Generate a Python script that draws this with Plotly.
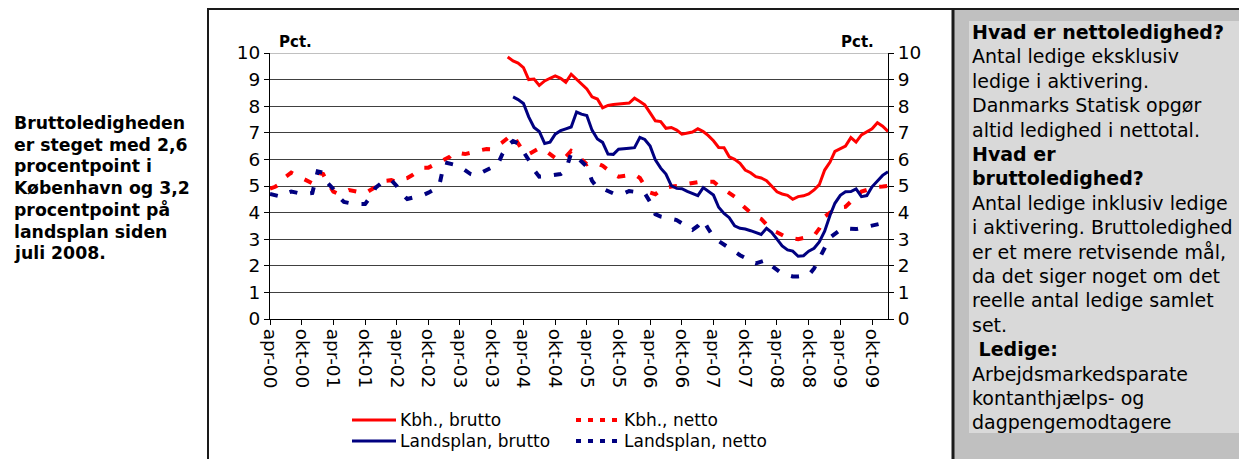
import pandas as pd
import plotly.graph_objects as go

# ---- data (monthly, apr-2000 .. jan-2010) ----
months = pd.date_range("2000-04-01", "2010-01-01", freq="MS")

kbh_netto = [4.9, 4.97, 5.1, 5.35, 5.5, 5.4, 5.3, 5.19, 5.1, 5.5, 5.45, 5.1,
             4.79, 4.7, 4.75, 4.85, 4.8, 4.75, 4.72, 4.85, 4.97, 5.1, 5.2, 5.22,
             5.15, 5.25, 5.3, 5.41, 5.55, 5.69, 5.69, 5.8, 5.9, 5.98, 6.1, 6.27,
             6.25, 6.2, 6.25, 6.27, 6.35, 6.39, 6.38, 6.5, 6.64, 6.8, 6.94, 6.6,
             6.3, 6.2, 6.3, 6.42, 6.35, 6.2, 6.05, 5.98, 6.1, 6.32, 6.2, 6.0,
             5.82, 5.9, 5.85, 5.76, 5.6, 5.45, 5.35, 5.38, 5.42, 5.44, 5.3, 5.0,
             4.75, 4.69, 4.85, 4.94, 4.98, 5.0, 5.01, 5.08, 5.12, 5.16, 5.18, 5.16,
             5.16, 5.0, 4.85, 4.73, 4.6, 4.35, 4.16, 4.0, 3.85, 3.76, 3.55, 3.35,
             3.26, 3.15, 3.05, 3.03, 3.0, 3.05, 3.1, 3.13, 3.4, 3.85, 4.0, 4.1,
             4.2, 4.22, 4.4, 4.6, 4.79, 4.85, 4.92, 4.97, 4.98, 5.0]

land_netto = [4.7, 4.66, 4.6, 4.72, 4.79, 4.75, 4.7, 4.72, 4.74, 5.55, 5.5, 5.1,
              4.89, 4.6, 4.4, 4.36, 4.33, 4.32, 4.32, 4.6, 4.94, 5.1, 5.2, 5.22,
              5.0, 4.7, 4.51, 4.55, 4.6, 4.66, 4.75, 4.85, 4.97, 5.89, 5.85, 5.8,
              5.73, 5.6, 5.45, 5.39, 5.5, 5.6, 5.7, 5.76, 6.2, 6.52, 6.69, 6.6,
              6.3, 5.98, 5.6, 5.35, 5.36, 5.38, 5.4, 5.45, 5.6, 6.23, 6.1, 5.9,
              5.73, 5.2, 4.94, 4.9, 4.8, 4.72, 4.69, 4.72, 4.81, 4.78, 4.75, 4.73,
              4.4, 3.94, 3.85, 3.8, 3.75, 3.72, 3.6, 3.45, 3.35, 3.5, 3.72, 3.4,
              3.1, 2.93, 2.8, 2.65, 2.51, 2.4, 2.3, 2.15, 2.09, 2.15, 2.22, 2.0,
              1.85, 1.7, 1.65, 1.6, 1.6, 1.62, 1.65, 1.9, 2.28, 2.7, 3.06, 3.2,
              3.35, 3.41, 3.4, 3.38, 3.42, 3.47, 3.5, 3.55, 3.6, 3.65]

# brutto series start in 2004 (None = no data)
kbh_brutto = [None] * 45 + [
    9.85, 9.7, 9.62, 9.45, 9.0, 9.02, 8.78, 8.95, 9.05, 9.14, 9.05, 8.9,
    9.2, 9.02, 8.86, 8.65, 8.35, 8.27, 7.94, 8.03, 8.06, 8.07, 8.1, 8.12,
    8.3, 8.18, 8.05, 7.75, 7.45, 7.42, 7.17, 7.2, 7.1, 6.95, 7.0, 7.03,
    7.15, 7.05, 6.9, 6.7, 6.45, 6.44, 6.1, 6.0, 5.85, 5.6, 5.5, 5.35,
    5.3, 5.2, 5.0, 4.78, 4.7, 4.65, 4.5, 4.6, 4.63, 4.7, 4.85, 5.05,
    5.6, 5.9, 6.3, 6.4, 6.5, 6.82, 6.65, 6.92, 7.05, 7.15, 7.38, 7.25, 7.05]

land_brutto = [None] * 46 + [
    8.35, 8.25, 8.1, 7.6, 7.2, 7.05, 6.6, 6.65, 6.95, 7.08, 7.15, 7.22,
    7.78, 7.7, 7.65, 7.1, 6.77, 6.64, 6.2, 6.19, 6.38, 6.39, 6.42, 6.44,
    6.83, 6.75, 6.5, 5.98, 5.67, 5.45, 5.01, 4.91, 4.9, 4.8, 4.73, 4.64,
    4.94, 4.8, 4.66, 4.2, 3.97, 3.81, 3.5, 3.41, 3.38, 3.32, 3.26, 3.18,
    3.41, 3.26, 3.0, 2.75, 2.6, 2.55, 2.36, 2.38, 2.55, 2.66, 2.9, 3.3,
    3.9, 4.35, 4.65, 4.78, 4.79, 4.89, 4.6, 4.64, 4.97, 5.2, 5.4, 5.54]

tick_dates = pd.date_range("2000-04-01", "2009-10-01", freq="6MS")
tick_text = ["apr-00", "okt-00", "apr-01", "okt-01", "apr-02", "okt-02",
             "apr-03", "okt-03", "apr-04", "okt-04", "apr-05", "okt-05",
             "apr-06", "okt-06", "apr-07", "okt-07", "apr-08", "okt-08",
             "apr-09", "okt-09"]

series_names = ["Kbh., brutto", "Kbh., netto", "Landsplan, brutto", "Landsplan, netto"]

left_text = ["Bruttoledigheden", "er steget med 2,6", "procentpoint i",
             "København og 3,2", "procentpoint på", "landsplan siden", "juli 2008."]

box_lines = [("Hvad er nettoledighed?", True), ("Antal ledige eksklusiv", False),
             ("ledige i aktivering.", False), ("Danmarks Statisk opgør", False),
             ("altid ledighed i nettotal.", False), ("Hvad er", True),
             ("bruttoledighed?", True), ("Antal ledige inklusiv ledige", False),
             ("i aktivering. Bruttoledighed", False), ("er et mere retvisende mål,", False),
             ("da det siger noget om det", False), ("reelle antal ledige samlet", False),
             ("set.", False), (" Ledige:", True), ("Arbejdsmarkedsparate", False),
             ("kontanthjælps- og", False), ("dagpengemodtagere", False)]

# ---- layout geometry (page pixels; the page body adds an 8px margin) ----
OFF = 8
W, H = 1247 - OFF, 459 - OFF
PL, PR, PT, PB = 270, 888, 53, 319   # plot box in page pixels
L, R, T, B = PL - OFF, PR - OFF, PT - OFF, PB - OFF
FONT = "DejaVu Sans"
RED = "#ff0000"
NAVY = "#000080"
NETTO_DASH = "8px,13px"


def px(x):
    return (x - PL) / (PR - PL)


def py(y):
    return (PB - y) / (PB - PT)


fig = go.Figure()
fig.add_trace(go.Scatter(x=months, y=kbh_brutto, mode="lines", name=series_names[0],
                         line=dict(color=RED, width=3), connectgaps=False))
fig.add_trace(go.Scatter(x=months, y=kbh_netto, mode="lines", name=series_names[1],
                         line=dict(color=RED, width=4, dash=NETTO_DASH)))
fig.add_trace(go.Scatter(x=months, y=land_brutto, mode="lines", name=series_names[2],
                         line=dict(color=NAVY, width=3), connectgaps=False))
fig.add_trace(go.Scatter(x=months, y=land_netto, mode="lines", name=series_names[3],
                         line=dict(color=NAVY, width=4, dash=NETTO_DASH)))
# right axis mirror (invisible trace to activate yaxis2)
fig.add_trace(go.Scatter(x=months, y=kbh_netto, yaxis="y2", mode="lines",
                         line=dict(width=0), opacity=0, hoverinfo="skip", showlegend=False))

shapes = []
# gray side panel
shapes.append(dict(type="rect", xref="paper", yref="paper", x0=px(953), x1=px(1260),
                   y0=py(470), y1=py(8), fillcolor="#c0c0c0", line=dict(width=0), layer="below"))
# inner text box
shapes.append(dict(type="rect", xref="paper", yref="paper", x0=px(969), x1=px(1243),
                   y0=py(433), y1=py(21), fillcolor="#d9d9d9", line=dict(width=0), layer="below"))
# chart frame
shapes.append(dict(type="rect", xref="paper", yref="paper", x0=px(208), x1=px(1262),
                   y0=py(480), y1=py(9), fillcolor="rgba(0,0,0,0)",
                   line=dict(color="#1a1a1a", width=2), layer="above"))
shapes.append(dict(type="line", xref="paper", yref="paper", x0=px(953), x1=px(953),
                   y0=py(480), y1=py(9), line=dict(color="#1a1a1a", width=3), layer="above"))
# lighter top gridline
shapes.append(dict(type="line", xref="paper", yref="y", x0=0, x1=1, y0=10, y1=10,
                   line=dict(color="#c0c0c0", width=2), layer="below"))

annotations = []
# Pct. labels
annotations.append(dict(text="<b>Pct.</b>", xref="paper", yref="paper", x=px(277), y=py(42),
                        xanchor="left", yanchor="middle", showarrow=False,
                        font=dict(family=FONT, size=15, color="black")))
annotations.append(dict(text="<b>Pct.</b>", xref="paper", yref="paper", x=px(876), y=py(42),
                        xanchor="right", yanchor="middle", showarrow=False,
                        font=dict(family=FONT, size=15, color="black")))
# left comment
for i, line in enumerate(left_text):
    annotations.append(dict(text="<b>" + line + "</b>", xref="paper", yref="paper",
                            x=px(12), y=py(123 + i * 21.7), xanchor="left", yanchor="middle",
                            showarrow=False, font=dict(family=FONT, size=17.3, color="black")))
# info box
for i, (line, bold) in enumerate(box_lines):
    txt = "<b>" + line + "</b>" if bold else line
    annotations.append(dict(text=txt, xref="paper", yref="paper",
                            x=px(970), y=py(32 + i * 24.4), xanchor="left", yanchor="middle",
                            showarrow=False, font=dict(family=FONT, size=19, color="black")))

# manual legend
legend_items = [(series_names[0], RED, "solid", 352, 420),
                (series_names[1], RED, "dash", 576, 420),
                (series_names[2], NAVY, "solid", 352, 441),
                (series_names[3], NAVY, "dash", 576, 441)]
for name, col, style, x0, yy in legend_items:
    if style == "solid":
        shapes.append(dict(type="line", xref="paper", yref="paper", x0=px(x0), x1=px(x0 + 44),
                           y0=py(yy), y1=py(yy), line=dict(color=col, width=3)))
    else:
        shapes.append(dict(type="line", xref="paper", yref="paper", x0=px(x0), x1=px(x0 + 44),
                           y0=py(yy), y1=py(yy), line=dict(color=col, width=4, dash="5px,7px")))
    annotations.append(dict(text=name, xref="paper", yref="paper", x=px(x0 + 46), y=py(yy),
                            xanchor="left", yanchor="middle", showarrow=False,
                            font=dict(family=FONT, size=17, color="black")))

axis_font = dict(family=FONT, size=18.5, color="black")
fig.update_layout(
    width=W, height=H,
    margin=dict(l=L, r=W - R, t=T, b=H - B, pad=0),
    paper_bgcolor="white", plot_bgcolor="white",
    showlegend=False,
    font=dict(family=FONT, color="black"),
    xaxis=dict(type="date", range=["2000-04-01", "2010-01-01"],
               tickvals=list(tick_dates), ticktext=tick_text, tickangle=90,
               ticks="outside", ticklen=5, tickcolor="black",
               showline=True, linecolor="black", linewidth=1,
               showgrid=False, zeroline=False, tickfont=axis_font),
    yaxis=dict(range=[0, 10], dtick=1, ticks="outside", ticklen=5, tickcolor="black",
               showline=True, linecolor="black", linewidth=1,
               showgrid=True, gridcolor="#404040", gridwidth=1, zeroline=False,
               tickfont=dict(family=FONT, size=18.5, color="black")),
    yaxis2=dict(range=[0, 10], dtick=1, overlaying="y", side="right",
                ticks="outside", ticklen=5, tickcolor="black",
                showline=True, linecolor="black", linewidth=1,
                showgrid=False, zeroline=False,
                tickfont=dict(family=FONT, size=18.5, color="black")),
    shapes=shapes,
    annotations=annotations,
)

fig.write_html("out.html")
